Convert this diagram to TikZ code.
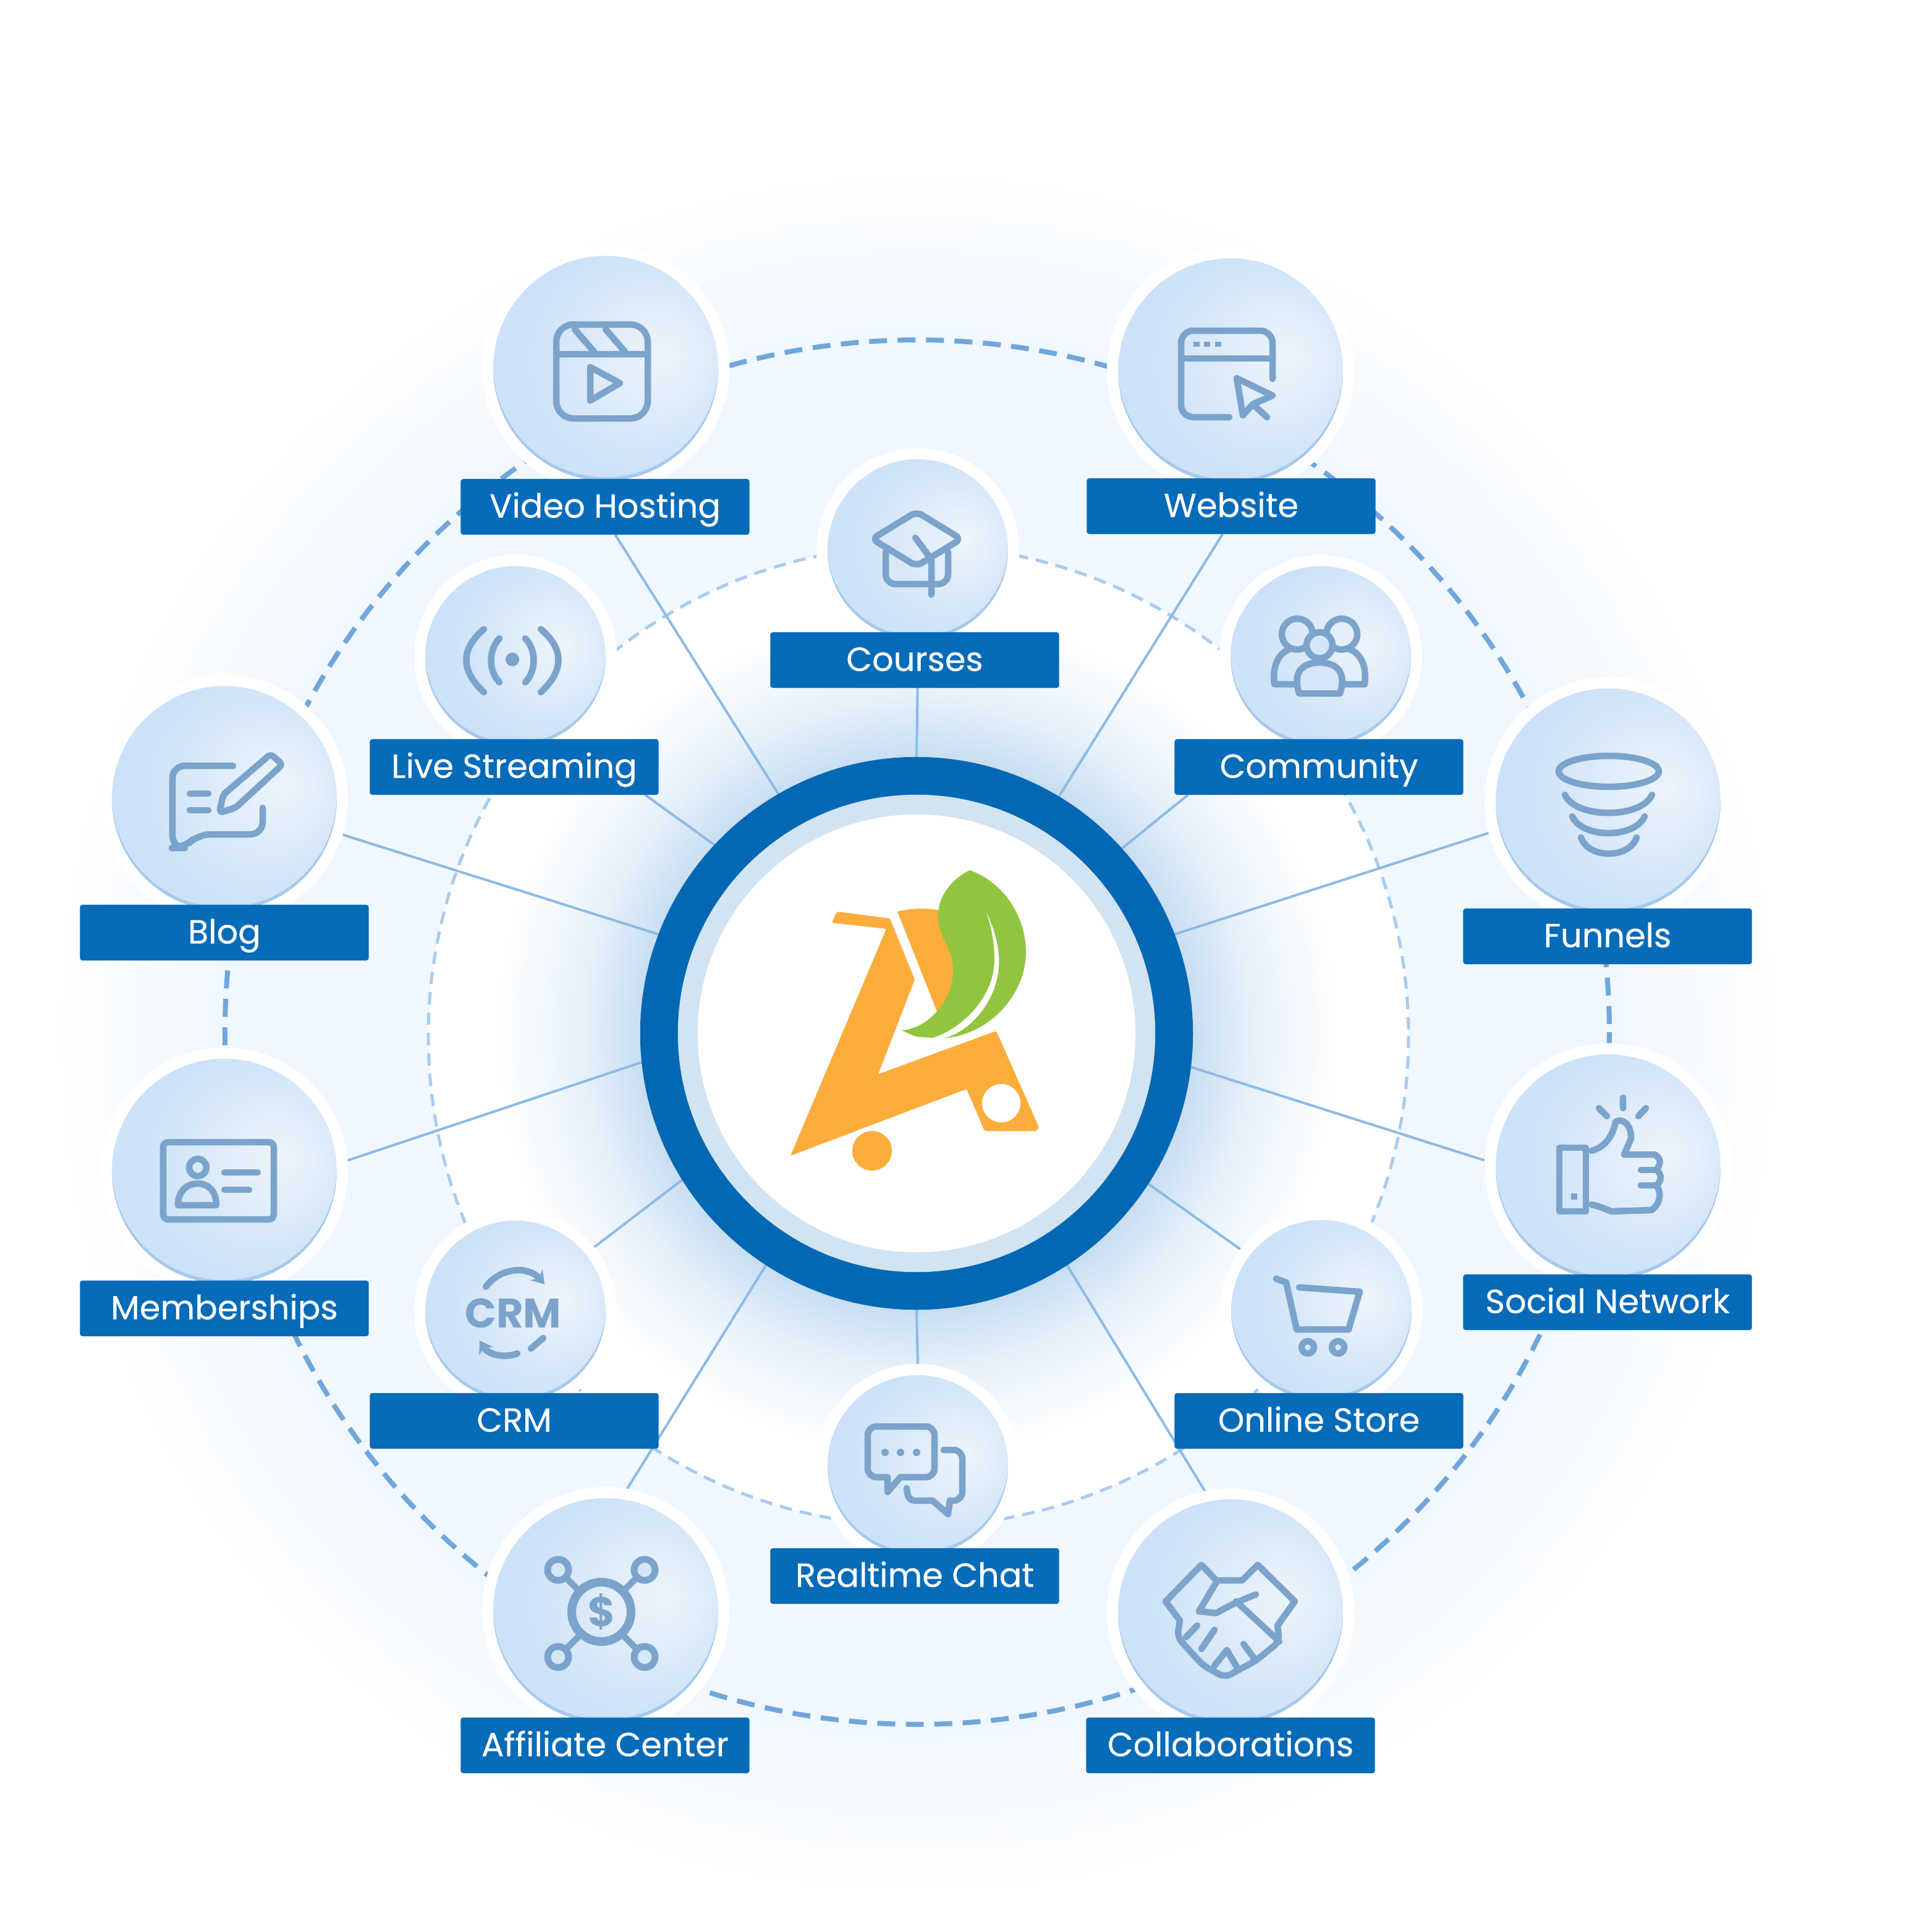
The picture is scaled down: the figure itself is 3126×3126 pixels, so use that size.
\documentclass[tikz,border=0pt]{standalone}
\usepackage{fontspec}
\setmainfont{Poppins}
\newfontfamily\tagfont{Poppins}[FakeBold=0.35]
\usetikzlibrary{calc,arrows.meta,backgrounds}
\definecolor{ringblue}{HTML}{0368B4}
\definecolor{ringpale}{HTML}{D2E3F2}
\definecolor{tagblue}{HTML}{066BB8}
\definecolor{iconblue}{HTML}{7BA3CB}
\definecolor{rimblue}{HTML}{A6C9EC}
\definecolor{bubfill}{HTML}{D5E6F8}
\definecolor{spokeblue}{HTML}{8DBAE5}
\definecolor{dashblue}{HTML}{6FA6DC}
\definecolor{dashpale}{HTML}{A9CCEE}
\definecolor{cartorange}{HTML}{FBAD3C}
\definecolor{leafgreen}{HTML}{92C53F}
\definecolor{glowa}{HTML}{C9DEF2}
\definecolor{glowb}{HTML}{E6F1FA}
\definecolor{glowc}{HTML}{F0F7FE}
\definecolor{buba}{HTML}{EDF5FC}
\definecolor{bubb}{HTML}{E0EDFA}
\definecolor{bubc}{HTML}{CDE2F8}
\pgfdeclareradialshading{outerglow}{\pgfpoint{0bp}{0bp}}{color(0bp)=(glowc); color(20bp)=(glowc); color(25bp)=(white); color(50bp)=(white)}
\pgfdeclareradialshading{innerglow}{\pgfpoint{0bp}{0bp}}{color(0bp)=(glowa); color(16.5bp)=(glowa); color(20bp)=(glowb); color(25bp)=(white); color(50bp)=(white)}
\pgfdeclareradialshading{bubshade}{\pgfpoint{13bp}{3bp}}{color(0bp)=(buba); color(10bp)=(bubb); color(24bp)=(bubc); color(50bp)=(bubc)}
\tikzset{
  bubble/.style={circle,inner sep=0pt,draw=white,fill=rimblue,
    path picture={\shade[shading=bubshade] ($(path picture bounding box.center)+(0,-6)$) circle[radius=#1];}},
  bigbub/.style={bubble=182,minimum size=3.82cm,line width=.18cm},
  smallbub/.style={bubble=146,minimum size=3.1cm,line width=.18cm},
  tag/.style={rectangle,fill=tagblue,text=white,rounded corners=.04cm,inner sep=0pt,outer sep=0pt,
    minimum width=4.67cm,minimum height=.9cm,text height=10pt,text depth=0pt,
    font=\tagfont\fontsize{15.4}{18}\selectfont},
  iconline/.style={draw=iconblue,line width=.105cm,line join=round,line cap=round},
  icontext/.style={text=iconblue,font=\fontsize{19}{22}\selectfont\bfseries,inner sep=0pt},
  spoke/.style={draw=spokeblue,line width=.04cm},
}
\begin{document}
\begin{tikzpicture}[x=.01cm,y=-.01cm]
  \useasboundingbox (0,0) rectangle (3126,3126);
  % hub
  \node[circle,fill=ringblue,minimum size=8.94cm,inner sep=0pt,outer sep=0pt] (hub) at (1483,1672) {};
  \node[circle,fill=ringpale,minimum size=7.72cm,inner sep=0pt] (hubpale) at (hub) {};
  \node[circle,fill=white,minimum size=7.08cm,inner sep=0pt] (hubcore) at (hub) {};
  % cart and leaf
  \fill[cartorange,rounded corners=.02cm] (1354,1475) -- (1440,1486) -- (1480,1585) -- (1421,1738) -- (1612,1668) -- (1681,1824) -- (1677,1830) -- (1593,1830) -- (1564,1762) -- (1279,1870) -- (1434,1503) -- (1346,1493) -- cycle;
  \fill[cartorange] (1452,1475) .. controls (1475,1469) and (1500,1469) .. (1525,1473) -- (1545,1570) -- (1536,1618) -- (1517,1639) -- cycle;
  \fill[cartorange] (1411,1862) circle[radius=32];
  \fill[white] (1620,1785) circle[radius=31];
  \fill[leafgreen] (1569,1408) .. controls (1630,1430) and (1660,1490) .. (1660,1540) .. controls (1660,1610) and (1600,1675) .. (1526,1680) -- (1491,1678) .. controls (1480,1678) and (1470,1672) .. (1459,1667) .. controls (1500,1665) and (1542,1620) .. (1542,1570) .. controls (1542,1530) and (1518,1520) .. (1518,1480) .. controls (1518,1450) and (1540,1422) .. (1569,1408) -- cycle;
  \fill[white] (1596,1476) .. controls (1612,1510) and (1618,1540) .. (1616,1565) .. controls (1612,1620) and (1570,1670) .. (1526,1680) -- (1510,1679) .. controls (1555,1665) and (1608,1615) .. (1609,1555) .. controls (1610,1530) and (1604,1500) .. (1596,1476) -- cycle;
  % bubbles with their tags
  \foreach \nm/\bx/\by/\tx/\ty/\txt in {video/980/596/979/820/Video Hosting,website/1991/600/1992/819/Website,blog/363/1292/363/1509/Blog,funnels/2602/1296/2601/1515/Funnels,member/363/1895/363/2117/Memberships,social/2602/1888/2601/2107/Social Network,affiliate/980/2606/979/2824/Affiliate Center,collab/1991/2608/1991/2824/Collaborations}
    {\node[bigbub] (bub\nm) at (\bx,\by) {};
     \node[tag] (tag\nm) at (\tx,\ty) {\txt};}
  \foreach \nm/\bx/\by/\tx/\ty/\txt in {courses/1485/889/1480/1068/Courses,live/834/1062/832/1241/Live Streaming,community/2137/1062/2134/1241/Community,crm/834/2121/832/2299/CRM,store/2138/2120/2134/2299/Online Store,chat/1485/2371/1480/2550/Realtime Chat}
    {\node[smallbub] (bub\nm) at (\bx,\by) {};
     \node[tag] (tag\nm) at (\tx,\ty) {\txt};}
  % glow, rings and spokes go behind
  \begin{pgfonlayer}{background}
    \shade[shading=outerglow] (1484,1672) circle[radius=1400];
    \fill[white] (1486,1676) circle[radius=793];
    \shade[shading=innerglow] (1484,1672) circle[radius=680];
    \draw[dashblue,line width=.08cm,dash pattern=on .29cm off .17cm] (1484,1670) circle[radius=1120];
    \draw[dashpale,line width=.05cm,dash pattern=on .2cm off .13cm] (1486,1676) circle[radius=793];
    \foreach \a/\b in {hub.120.3/tagvideo.-70,hub.90/tagcourses.-84.5,hub.59/tagwebsite.-107,hub.137.5/taglive.-12,hub.42.4/tagcommunity.192,hub.159.4/bubblog.-17.8,hub.21/bubfunnels.195.3,hub.186.9/bubmember.5,hub.-7.3/bubsocial.177.7,hub.212.5/bubcrm.39.6,hub.-33.5/bubstore.143.9,hub.-90/bubchat.90,hub.237.4/bubaffiliate.80,hub.-57.8/bubcollab.102.4}
      {\draw[spoke] (\a) -- (\b);}
  \end{pgfonlayer}
  % video
  \draw[iconline,rounded corners=.28cm] (900,525) rectangle (1048,677);
  \draw[iconline] (900,573) -- (1048,573) (930,533) -- (962,570) (980,533) -- (1012,570);
  \draw[iconline] (955,594) -- (1003,620) -- (955,648) -- cycle;
  % website
  \draw[iconline,rounded corners=.2cm] (2059,613) -- (2059,535) -- (1911,535) -- (1911,675) -- (1989,675);
  \draw[iconline] (1911,580) -- (2059,580);
  \foreach \dx in {1936,1953,1971} {\fill[iconblue] (\dx-5,553) rectangle (\dx+5,561);}
  \draw[iconline] (2001,612) -- (2059,640) -- (2027,654) -- (2011,672) -- cycle (2027,654) -- (2050,675);
  % courses
  \draw[iconline,rounded corners=.1cm] (1483,828) -- (1555,872) -- (1483,916) -- (1411,872) -- cycle;
  \draw[iconline,rounded corners=.16cm] (1433,893) -- (1433,945) -- (1534,945) -- (1534,893);
  \draw[iconline] (1481,870) -- (1507,905) -- (1507,962);
  % live streaming
  \fill[iconblue] (829,1067) circle[radius=11];
  \draw[iconline] (783,1018) .. controls (745,1050) and (745,1085) .. (783,1120);
  \draw[iconline] (808,1033) .. controls (790,1052) and (790,1085) .. (808,1104);
  \draw[iconline] (875,1018) .. controls (913,1050) and (913,1085) .. (875,1120);
  \draw[iconline] (850,1033) .. controls (868,1052) and (868,1085) .. (850,1104);
  % community
  \draw[iconline] (2099,1026) circle[radius=25] (2171,1026) circle[radius=25];
  \draw[iconline] (2105,1107) -- (2062,1107) .. controls (2058,1075) and (2070,1055) .. (2090,1049);
  \draw[iconline] (2165,1107) -- (2208,1107) .. controls (2212,1075) and (2200,1055) .. (2180,1049);
  \draw[iconline,fill=bubfill] (2135,1044) circle[radius=21];
  \draw[iconline,fill=bubfill] (2102,1122) .. controls (2090,1085) and (2110,1072) .. (2135,1072) .. controls (2160,1072) and (2180,1085) .. (2168,1122) -- cycle;
  % funnels
  \draw[iconline] (2603,1248) ellipse[x radius=81,y radius=25];
  \draw[iconline] (2532,1286) .. controls (2550,1325) and (2655,1325) .. (2673,1286);
  \draw[iconline] (2544,1321) .. controls (2560,1357) and (2645,1357) .. (2661,1321);
  \draw[iconline] (2558,1355) .. controls (2570,1390) and (2636,1390) .. (2648,1355);
  % blog
  \draw[iconline,rounded corners=.2cm] (377,1239) -- (279,1239) -- (279,1372) -- (298,1372) -- (320,1350) -- (425,1350) -- (425,1307);
  \draw[iconline] (307,1284) -- (337,1284) (307,1311) -- (337,1311);
  \draw[iconline,rounded corners=.06cm] (355,1315) -- (361,1286) -- (438,1220) -- (457,1237) -- (381,1307) -- cycle;
  % memberships
  \draw[iconline,rounded corners=.08cm] (264,1848) rectangle (443,1973);
  \draw[iconline] (320,1889) circle[radius=14];
  \draw[iconline] (288,1950) .. controls (288,1925) and (305,1915) .. (320,1915) .. controls (335,1915) and (350,1925) .. (350,1950) -- cycle;
  \draw[iconline] (363,1897) -- (417,1897) (363,1925) -- (403,1925);
  % crm
  \node[icontext] (crmtext) at (830,2125) {CRM};
  \draw[iconline,-{Stealth[length=.2cm,width=.26cm]}] (786,2082) .. controls (810,2050) and (855,2048) .. (881,2078);
  \draw[iconline,-{Stealth[length=.2cm,width=.26cm]}] (837,2190) .. controls (815,2198) and (790,2192) .. (776,2169);
  \draw[iconline] (859,2182) -- (879,2165);
  % online store
  \draw[iconline] (2065,2069) -- (2081,2075) -- (2098,2151) -- (2182,2151) -- (2200,2090) -- (2102,2083);
  \draw[iconline] (2116,2180) circle[radius=10] (2165,2180) circle[radius=10];
  % social network
  \draw[iconline] (2523,1857) rectangle (2566,1960);
  \fill[iconblue] (2542,1931) rectangle (2552,1941);
  \draw[iconline] (2575,1862) .. controls (2600,1855) and (2610,1835) .. (2614,1815) .. controls (2625,1808) and (2640,1820) .. (2639,1842) -- (2628,1868) -- (2677,1868) .. controls (2690,1875) and (2686,1885) .. (2680,1893) .. controls (2690,1900) and (2688,1912) .. (2680,1918) .. controls (2690,1930) and (2685,1950) .. (2672,1958) -- (2607,1960) .. controls (2595,1955) and (2585,1951) .. (2575,1949);
  \draw[iconline] (2655,1893) -- (2680,1893) (2655,1918) -- (2680,1918);
  \draw[iconline] (2626,1776) -- (2626,1793) (2587,1793) -- (2600,1806) (2663,1793) -- (2651,1806);
  % collaborations
  \draw[iconline] (1909,2622) -- (1886,2591) -- (1944,2532) -- (1968,2557) -- (2010,2557) -- (2035,2532) -- (2095,2591) -- (2067,2630);
  \draw[iconline] (1968,2560) -- (1940,2607) -- (1968,2610) .. controls (1985,2600) and (2005,2590) .. (2032,2580);
  \draw[iconline] (2000,2591) -- (2070,2656);
  \draw[iconline,rounded corners=.1cm] (1909,2622) -- (1905,2649) -- (1926,2672) -- (1947,2695) -- (1982,2714) -- (2004,2702) -- (2032,2687) -- (2070,2656) -- (2067,2630);
  \draw[iconline] (1919,2649) -- (1937,2630) (1944,2668) -- (1965,2637) (1965,2695) -- (1985,2670) (2004,2702) -- (1985,2670) (2032,2687) -- (2012,2660);
  % realtime chat
  \draw[iconline,rounded corners=.14cm] (1436,2390) -- (1404,2390) -- (1404,2308) -- (1512,2308) -- (1512,2390) -- (1457,2390);
  \draw[iconline] (1436,2390) -- (1436,2414) -- (1457,2390);
  \foreach \dx in {1432,1457,1483} {\fill[iconblue] (\dx,2350) circle[radius=6];}
  \draw[iconline,rounded corners=.14cm] (1527,2346) -- (1557,2346) -- (1557,2428) -- (1537,2428);
  \draw[iconline] (1537,2428) -- (1534,2450) -- (1509,2428);
  \draw[iconline,rounded corners=.1cm] (1509,2428) -- (1470,2428) -- (1467,2408);
  % affiliate
  \draw[iconblue,line width=.14cm] (973,2608) circle[radius=48];
  \node[icontext] (dollar) at (973,2608) {\$};
  \foreach \sx/\sy/\ex/\ey in {903/2540/938/2575,1043/2540/1008/2575,903/2681/938/2646,1043/2681/1008/2646}
    {\draw[iconline] (\sx,\sy) -- (\ex,\ey);
     \draw[iconline,line width=.11cm,fill=bubfill] (\sx,\sy) circle[radius=17];}
\end{tikzpicture}
\end{document}
